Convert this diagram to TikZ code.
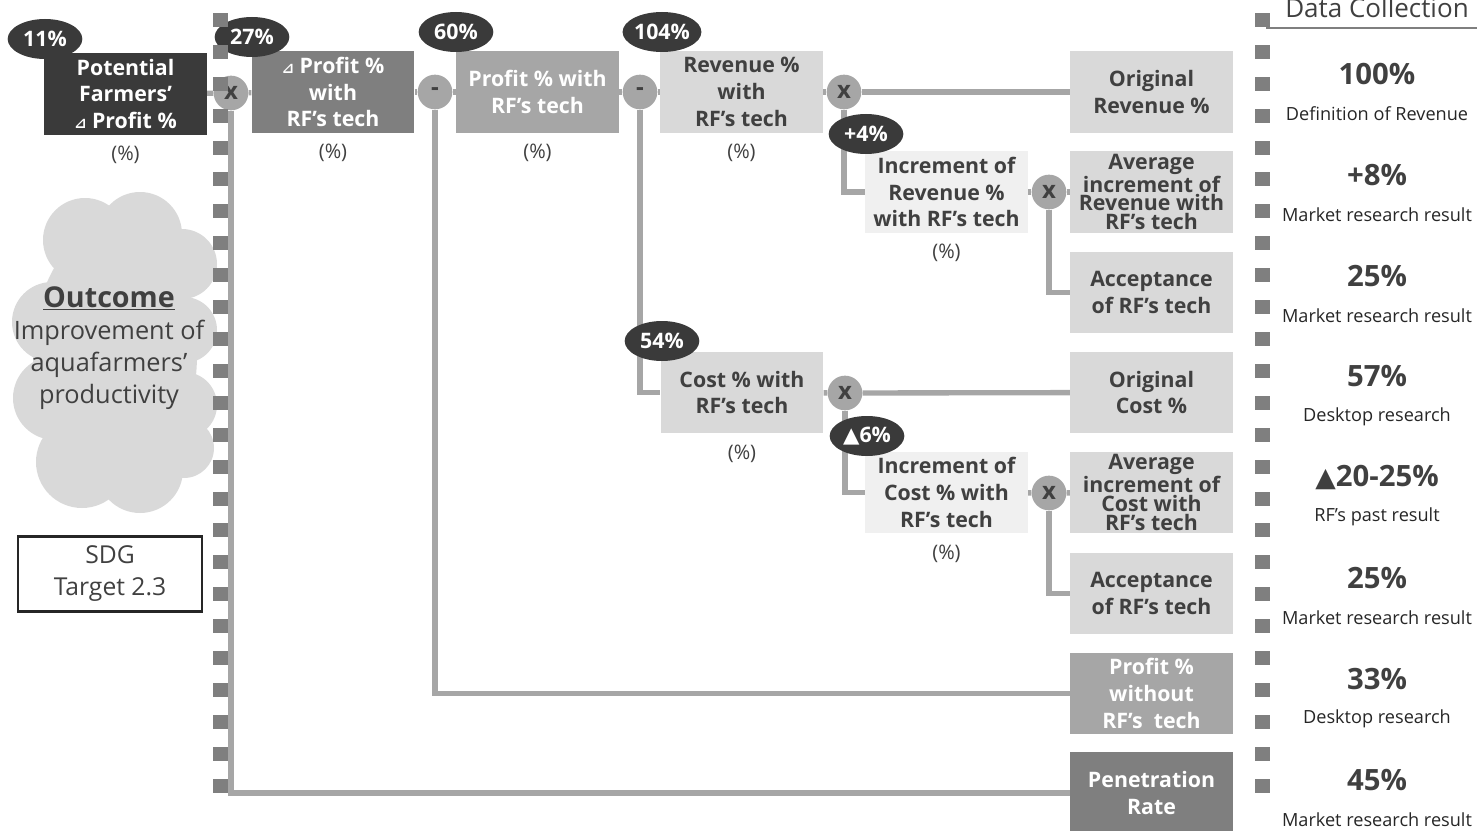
\documentclass[tikz,border=0pt]{standalone}
\usepackage{fontspec}
\setmainfont{Open Sans}
\newfontfamily\symf{DejaVu Sans}
\usetikzlibrary{positioning,shapes.geometric}
\definecolor{dk}{HTML}{3A3A3A}
\definecolor{md}{HTML}{7F7F7F}
\definecolor{ml}{HTML}{A6A6A6}
\definecolor{lt}{HTML}{D9D9D9}
\definecolor{vl}{HTML}{F0F0F0}
\definecolor{tx}{HTML}{404040}
\tikzset{
  box/.style={minimum width=122pt,minimum height=61pt,inner sep=0pt,align=center,font=\bfseries\fontsize{16}{20}\selectfont},
  wbox/.style={box,fill=#1,text=white},
  gbox/.style={box,fill=#1,text=tx},
  tight/.style={font=\bfseries\fontsize{16}{14}\selectfont},
  op/.style={circle,fill=ml,minimum size=26pt,inner sep=0pt,text=tx,font=\bfseries\fontsize{18}{18}\selectfont},
  val/.style={ellipse,fill=dk,text=white,minimum width=56pt,minimum height=30pt,inner sep=0pt,font=\bfseries\fontsize{16}{16}\selectfont},
  unit/.style={text=tx,font=\fontsize{15}{15}\selectfont},
  link/.style={draw=ml,line width=4pt},
  sq/.style={fill=md},
  big/.style={text=tx,font=\bfseries\fontsize{22}{22}\selectfont},
  src/.style={text=black!85,font=\fontsize{13.6}{13.6}\selectfont},
}
\newcommand{\dtri}{{\symf\fontsize{11}{11}\selectfont ⊿}}
\newcommand{\utri}[1]{{\symf\fontsize{#1}{#1}\selectfont ▲}}

\begin{document}
\begin{tikzpicture}[x=0.75pt,y=-0.75pt]
\useasboundingbox (0,0) rectangle (1477,831);
\fill[lt] (115,355) ellipse (82 and 130);
\foreach \cx/\cy/\r in {85/240/42,140/234/42,182/264/35,52/322/40,55/398/42,184/330/33,184/405/33,82/462/46,140/470/43,184/448/30}
  \fill[lt] (\cx,\cy) circle (\r);
\node (outc) [align=center,text=tx,font=\fontsize{19}{24}\selectfont] at (109,348) {{\bfseries\fontsize{21.5}{24}\selectfont\underline{Outcome}}\\Improvement of\\aquafarmers'\\productivity};
\node (sdg) [draw=black!85,line width=2.2pt,minimum width=138pt,minimum height=56pt,align=center,text=tx,font=\fontsize{18.5}{24}\selectfont] at (110,574) {SDG\\Target 2.3};

\node (pA) [wbox=dk] at (125.5,94) {Potential\\Farmers'\\\dtri{} Profit \%};
\node (pB) [wbox=md] at (333,92) {\dtri{} Profit \%\\with\\RF's tech};
\node (pC) [wbox=ml] at (537.5,92) {Profit \% with\\RF's tech};
\node (pD) [gbox=lt] at (741.5,92) {Revenue \%\\with\\RF's tech};
\node (origRev) [gbox=lt] at (1151.5,92) {Original\\Revenue \%};
\node (incRev) [gbox=vl] at (946.5,192) {Increment of\\Revenue \%\\with RF's tech};
\node (avgRev) [gbox=lt,tight] at (1151.5,192) {Average\\increment of\\Revenue with\\RF's tech};
\node (accRev) [gbox=lt] at (1151.5,292.5) {Acceptance\\of RF's tech};
\node (cost) [gbox=lt] at (742,392.5) {Cost \% with\\RF's tech};
\node (origCost) [gbox=lt] at (1151.5,392.5) {Original\\Cost \%};
\node (incCost) [gbox=vl] at (946.5,492.5) {Increment of\\Cost \% with\\RF's tech};
\node (avgCost) [gbox=lt,tight] at (1151.5,492.5) {Average\\increment of\\Cost with\\RF's tech};
\node (accCost) [gbox=lt] at (1151.5,593.5) {Acceptance\\of RF's tech};
\node (noTech) [wbox=ml] at (1151.5,693.5) {Profit \%\\without\\RF's~~tech};
\node (pen) [wbox=md] at (1151.5,793) {Penetration\\Rate};

\foreach \b in {pA,pB,pC,pD,cost,incRev,incCost}
  \node (u\b) [unit,below=5pt of \b] {(\%)};

\node (opA) [op] at (231,93) {x};
\node (opB) [op] at (435,92) {-};
\node (opC) [op] at (640,92) {-};
\node (opD) [op] at (844,92) {x};
\node (opE) [op] at (1049,192) {x};
\node (opF) [op] at (845,393) {x};
\node (opG) [op] at (1049,493) {x};

\draw[link] (pA) -- (opA) -- (pB);
\draw[link] (pB) -- (opB) -- (pC);
\draw[link] (pC) -- (opC) -- (pD);
\draw[link] (pD) -- (opD) -- (origRev);
\draw[link] (opD) |- (incRev);
\draw[link] (incRev) -- (opE) -- (avgRev);
\draw[link] (opE) |- (accRev);
\draw[link] (opC) |- (cost);
\draw[link] (cost) -- (opF) -- (origCost);
\draw[link] (opF) |- (incCost);
\draw[link] (incCost) -- (opG) -- (avgCost);
\draw[link] (opG) |- (accCost);
\draw[link] (opB) |- (noTech);
\draw[link] (opA) |- (pen);

\node (v11) [val] at (45,39) {11\%};
\node (v27) [val] at (252,37) {27\%};
\node (v60) [val] at (456,32) {60\%};
\node (v104) [val] at (662,32) {104\%};
\node (v4) [val] at (866,134) {+4\%};
\node (v54) [val] at (662,341) {54\%};
\node (v6) [val] at (867,436) {\utri{16}6\%};

\foreach \k in {0,...,24} {
  \fill[sq] (213,{13+31.9*\k}) rectangle ++(15,14);
  \fill[sq] (1255,{13+31.9*\k}) rectangle ++(15,14);
}

\node (dc) [text=tx,font=\fontsize{19.5}{19.5}\selectfont] at (1377,8) {Data Collection};
\draw[md,line width=1.5pt] (1266,28) -- (1477,28);
\foreach \v/\s [count=\n from 0] in {100\%/Definition of Revenue,+8\%/Market research result,25\%/Market research result,57\%/Desktop research,{\utri{20}20-25\%}/RF's past result,25\%/Market research result,33\%/Desktop research,45\%/Market research result} {
  \node (dv\n) [big] at (1377,{74+100.8*\n}) {\v};
  \node (ds\n) [src] at (1377,{114+100.8*\n}) {\s};
}
\end{tikzpicture}
\end{document}
